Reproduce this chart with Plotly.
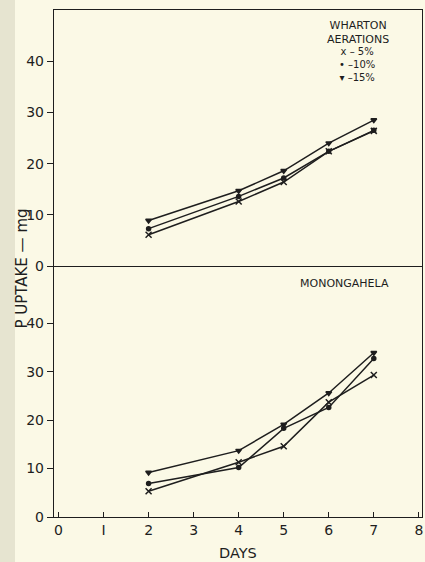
import plotly.graph_objects as go
from plotly.subplots import make_subplots

days = [2, 4, 5, 6, 7]

# Wharton soil (top panel)
wharton_5 = [6.1, 12.6, 16.4, 22.4, 26.4]
wharton_10 = [7.3, 13.6, 17.2, 22.4, 26.5]
wharton_15 = [8.9, 14.7, 18.6, 24.0, 28.5]

# Monongahela soil (bottom panel)
monon_5 = [5.3, 11.3, 14.6, 23.7, 29.3]
monon_10 = [6.9, 10.2, 18.3, 22.6, 32.7]
monon_15 = [9.2, 13.7, 19.1, 25.6, 33.9]

y_ticks = [0, 10, 20, 30, 40]
x_ticks = [0, 1, 2, 3, 4, 5, 6, 7, 8]
x_labels = ["0", "I", "2", "3", "4", "5", "6", "7", "8"]

ink = "#1e1e1e"
bg = "#fbf9e6"
font = "DejaVu Sans"

fig = make_subplots(rows=2, cols=1, shared_xaxes=True, vertical_spacing=0)

series = [
    (wharton_5, monon_5, "x-thin", 6),
    (wharton_10, monon_10, "circle", 4),
    (wharton_15, monon_15, "triangle-down", 5),
]
for top, bot, sym, sz in series:
    for row, vals in ((1, top), (2, bot)):
        fig.add_trace(go.Scatter(
            x=days, y=vals, mode="lines+markers",
            line=dict(color=ink, width=1.5),
            marker=dict(symbol=sym, size=sz, color=ink,
                        line=dict(color=ink, width=1.5)),
            showlegend=False, hoverinfo="skip", cliponaxis=False), row=row, col=1)

fig.update_layout(
    width=425, height=562,
    paper_bgcolor=bg, plot_bgcolor=bg,
    margin=dict(l=54, r=3, t=10, b=45, autoexpand=False),
    font=dict(family=font, color=ink, size=14),
    showlegend=False,
)

common_y = dict(tickvals=y_ticks, ticks="outside", ticklen=6, tickwidth=1.3,
                tickcolor=ink, showline=True, linecolor=ink, linewidth=1.4,
                mirror=True, showgrid=False, zeroline=False, automargin=False,
                tickfont=dict(size=14, color=ink, family=font))
fig.update_yaxes(range=[0, 50], domain=[0.495, 1.0], row=1, col=1, **common_y)
fig.update_yaxes(range=[0, 51.8], domain=[0.0, 0.495], row=2, col=1, **common_y)

fig.update_xaxes(range=[-0.1, 8.07], showline=True, linecolor=ink, linewidth=1.4,
                 showgrid=False, zeroline=False, automargin=False)
fig.update_xaxes(showticklabels=False, ticks="", mirror=True, row=1, col=1)
fig.update_xaxes(tickvals=x_ticks, ticktext=x_labels, ticks="inside", ticklen=5,
                 tickwidth=1.3, tickcolor=ink, mirror=False,
                 tickfont=dict(size=14, color=ink, family=font),
                 row=2, col=1)

# scan edge strip at the left
fig.add_shape(type="rect", xref="paper", yref="paper",
              x0=-54/368, x1=-39/368, y0=-45/507, y1=1+10/507,
              fillcolor="#e6e4d0", line=dict(width=0), layer="below")

fig.add_annotation(x=6.65, y=45.6, xref="x", yref="y",
                   text="WHARTON<br>AERATIONS", align="center",
                   xanchor="center", yanchor="middle", showarrow=False,
                   font=dict(size=11, color=ink, family=font))
fig.add_annotation(x=6.62, y=39.3, xref="x", yref="y",
                   text="x – 5%<br>• –10%<br>▾ –15%", align="center",
                   xanchor="center", yanchor="middle", showarrow=False,
                   font=dict(size=10, color=ink, family=font))
fig.add_annotation(x=6.36, y=48.1, xref="x2", yref="y2", text="MONONGAHELA",
                   xanchor="center", yanchor="middle", showarrow=False,
                   font=dict(size=11, color=ink, family=font))

fig.add_annotation(x=-32/368, y=0.49, xref="paper", yref="paper",
                   text="P UPTAKE — mg", textangle=-90, showarrow=False,
                   xanchor="center", yanchor="middle",
                   font=dict(size=15, color=ink, family=font))
fig.add_annotation(x=0.5, y=-36/507, xref="paper", yref="paper",
                   text="DAYS", showarrow=False,
                   xanchor="center", yanchor="middle",
                   font=dict(size=14.5, color=ink, family=font))

fig.write_html("out.html",
               config={"displayModeBar": False},
               post_script="document.body.style.margin='0px';"
                           "document.body.style.background='#fbf9e6';")
